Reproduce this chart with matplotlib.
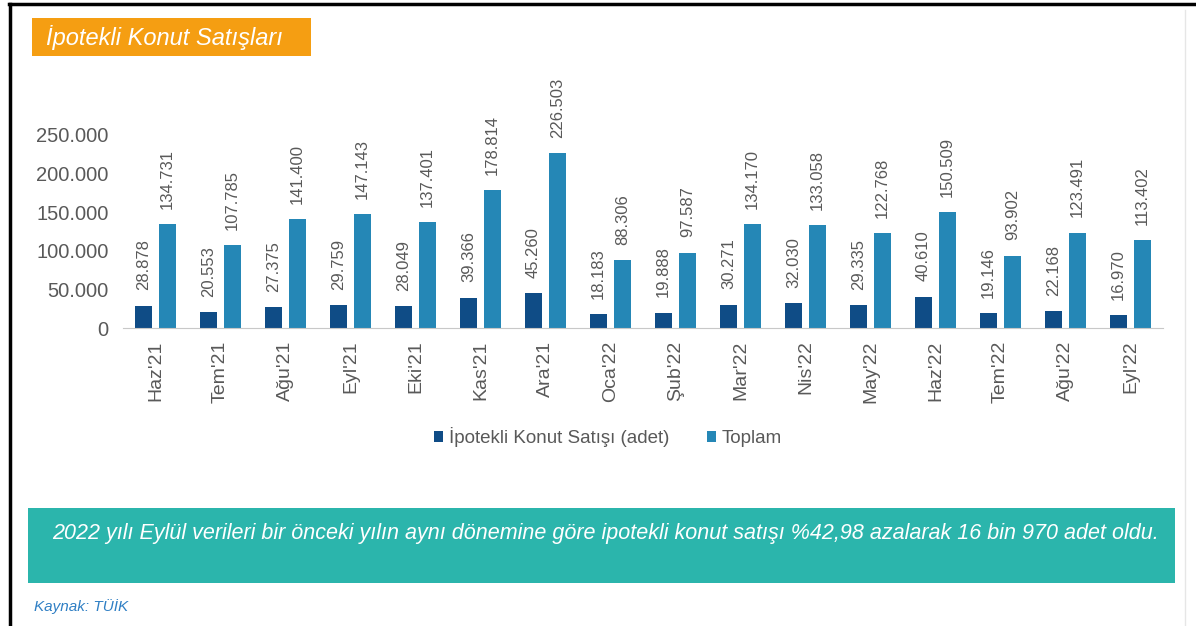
import numpy as np
import matplotlib
matplotlib.use("Agg")
import matplotlib.pyplot as plt
from matplotlib.patches import Rectangle
from matplotlib.lines import Line2D

plt.rcParams["font.family"] = ["Liberation Sans", "DejaVu Sans"]

months = ["Haz'21", "Tem'21", "Ağu'21", "Eyl'21", "Eki'21", "Kas'21", "Ara'21",
          "Oca'22", "Şub'22", "Mar'22", "Nis'22", "May'22", "Haz'22", "Tem'22",
          "Ağu'22", "Eyl'22"]
ipotekli = [28878, 20553, 27375, 29759, 28049, 39366, 45260, 18183, 19888,
            30271, 32030, 29335, 40610, 19146, 22168, 16970]
toplam = [134731, 107785, 141400, 147143, 137401, 178814, 226503, 88306, 97587,
          134170, 133058, 122768, 150509, 93902, 123491, 113402]
yticks = [0, 50000, 100000, 150000, 200000, 250000]

dark_blue = "#0f4c86"
light_blue = "#2587b6"
gray_txt = "#595959"


def tr_fmt(v):
    # Turkish thousands separator
    return f"{v:,}".replace(",", ".")


fig = plt.figure(figsize=(11.96, 6.26), dpi=100)
W, H = 1196, 626


def fx(px):
    return px / W


def fy(py):
    return 1 - py / H


# frame lines
fig.add_artist(Line2D([fx(9), fx(1196)], [fy(4), fy(4)], color="black", lw=2.5))
fig.add_artist(Line2D([fx(9.5), fx(9.5)], [fy(4), fy(626)], color="black", lw=2.5))
fig.add_artist(Line2D([fx(1185), fx(1185)], [fy(10), fy(626)], color="#e6e6e6", lw=1))

# title box
fig.add_artist(Rectangle((fx(32), fy(56)), fx(311) - fx(32), fy(18) - fy(56),
                         facecolor="#f59e12", edgecolor="none"))
fig.text(fx(46), fy(38), "İpotekli Konut Satışları", color="white",
         fontsize=17, style="italic", va="center", ha="left")

ax = fig.add_axes([fx(123), fy(328), fx(1163) - fx(123), fy(135) - fy(328)])
x = np.arange(len(months))
w = 0.27
off = 0.185
b1 = ax.bar(x - off, ipotekli, width=w, color=dark_blue,
            label="İpotekli Konut Satışı (adet)")
b2 = ax.bar(x + off, toplam, width=w, color=light_blue, label="Toplam")

for bars, vals in ((b1, ipotekli), (b2, toplam)):
    for rect, v in zip(bars, vals):
        ax.annotate(tr_fmt(v), (rect.get_x() + rect.get_width() / 2, v),
                    xytext=(0, 11), textcoords="offset points",
                    rotation=90, ha="center", va="bottom",
                    fontsize=12, color=gray_txt, annotation_clip=False)

ax.set_xlim(-0.5, 15.5)
ax.set_ylim(0, 250000)
ax.set_yticks(yticks)
ax.set_yticklabels([tr_fmt(v) for v in yticks], fontsize=14.5, color=gray_txt)
ax.set_xticks(x)
ax.set_xticklabels(months, rotation=90, fontsize=14, color=gray_txt)
ax.tick_params(axis="y", length=0, pad=10.5)
ax.tick_params(axis="x", length=0, pad=9)
for s in ("top", "right", "left"):
    ax.spines[s].set_visible(False)
ax.spines["bottom"].set_color("#c8c8c8")
ax.set_facecolor("none")

leg = fig.legend(loc="center", bbox_to_anchor=(fx(608), fy(437)), ncol=2,
                 frameon=False, fontsize=13.5, handlelength=0.5, handleheight=0.5,
                 handletextpad=0.3, columnspacing=2.0)
for t in leg.get_texts():
    t.set_color(gray_txt)

# summary box
fig.add_artist(Rectangle((fx(28), fy(583)), fx(1175) - fx(28), fy(508) - fy(583),
                         facecolor="#2bb5ac", edgecolor="none"))
fig.text(fx(605), fy(534),
         "2022 yılı Eylül verileri bir önceki yılın aynı dönemine göre ipotekli konut satışı "
         "%42,98 azalarak 16 bin 970 adet oldu.",
         color="white", fontsize=15.5, style="italic", ha="center", va="center")

fig.text(fx(34), fy(607), "Kaynak: TÜİK", color="#2f7fc4", fontsize=11,
         style="italic", ha="left", va="center")

fig.savefig("out.png", dpi=100)
